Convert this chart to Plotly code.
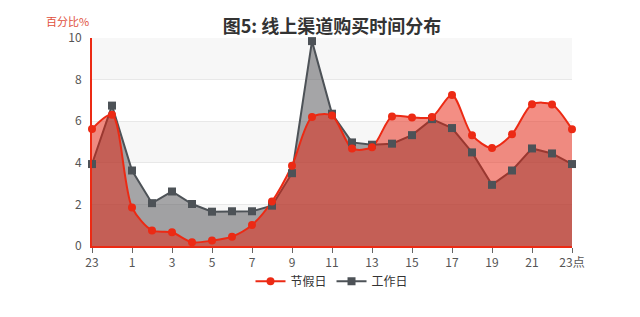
import plotly.graph_objects as go

hours = ['23', '0', '1', '2', '3', '4', '5', '6', '7', '8', '9', '10', '11', '12',
         '13', '14', '15', '16', '17', '18', '19', '20', '21', '22', '23点']
holiday = [5.62, 6.31, 1.85, 0.75, 0.66, 0.18, 0.26, 0.45, 1.01, 2.14, 3.86, 6.20, 6.27,
           4.69, 4.75, 6.23, 6.18, 6.20, 7.26, 5.33, 4.71, 5.37, 6.81, 6.80, 5.61]
workday = [3.94, 6.75, 3.63, 2.06, 2.62, 2.02, 1.65, 1.67, 1.67, 1.94, 3.50, 9.85, 6.36,
           4.98, 4.87, 4.92, 5.33, 6.10, 5.67, 4.50, 2.94, 3.63, 4.69, 4.45, 3.94]
y_ticks = [0, 2, 4, 6, 8, 10]

xs = list(range(len(hours)))
tick_idx = xs[::2]
tick_txt = [hours[i] for i in tick_idx]

RED = '#ec2a14'
GREY = '#4d5257'
FONT = 'Noto Sans CJK SC'

fig = go.Figure()
# area + line of working days (under the holiday area)
fig.add_trace(go.Scatter(
    x=xs, y=workday, name='工作日', mode='lines', showlegend=False,
    line=dict(color=GREY, width=2, shape='linear'),
    fill='tozeroy', fillcolor='rgba(75,75,80,0.5)', cliponaxis=False,
))
# area + line of holidays
fig.add_trace(go.Scatter(
    x=xs, y=holiday, name='节假日', mode='lines', showlegend=False,
    line=dict(color=RED, width=2, shape='spline', smoothing=0.8),
    fill='tozeroy', fillcolor='rgba(232,30,10,0.5)', cliponaxis=False,
))
# markers on top
fig.add_trace(go.Scatter(
    x=xs, y=workday, name='工作日', mode='markers', showlegend=False,
    marker=dict(symbol='square', size=8, color=GREY), cliponaxis=False,
))
fig.add_trace(go.Scatter(
    x=xs, y=holiday, name='节假日', mode='markers', showlegend=False,
    marker=dict(symbol='circle', size=8, color=RED), cliponaxis=False,
))
# legend entries (line + marker, no fill)
fig.add_trace(go.Scatter(
    x=[None], y=[None], name='节假日', mode='lines+markers',
    line=dict(color=RED, width=2), marker=dict(symbol='circle', size=8, color=RED),
))
fig.add_trace(go.Scatter(
    x=[None], y=[None], name='工作日', mode='lines+markers',
    line=dict(color=GREY, width=2), marker=dict(symbol='square', size=8, color=GREY),
))

for lo, hi in [(0, 2), (4, 6), (8, 10)]:
    fig.add_shape(type='rect', xref='paper', yref='y', x0=0, x1=1, y0=lo, y1=hi,
                  fillcolor='#f7f7f7', line=dict(width=0), layer='below')

fig.update_layout(
    width=640, height=317,
    margin=dict(l=92, r=68, t=38, b=71),
    paper_bgcolor='white', plot_bgcolor='white',
    font=dict(family=FONT, size=12, color='#555'),
    title=dict(text='<b>图5: 线上渠道购买时间分布</b>', x=0.5, xref='paper',
               y=1 - 27 / 317, yref='container', xanchor='center', yanchor='middle',
               font=dict(family=FONT, size=18, color='#333')),
    showlegend=True,
    legend=dict(orientation='h', x=0.5, xanchor='center', y=-0.17, yanchor='middle',
                font=dict(family=FONT, size=12, color='#333'),
                bgcolor='rgba(0,0,0,0)', itemwidth=30),
    xaxis=dict(range=[0, 24], tickvals=tick_idx, ticktext=tick_txt,
               showgrid=False, zeroline=False, showline=True, linecolor=RED, linewidth=2,
               ticks='outside', ticklen=5, tickcolor='#666', tickwidth=1,
               tickfont=dict(size=12, color='#555')),
    yaxis=dict(range=[0, 10], tickvals=y_ticks, showgrid=True, gridcolor='#e8e8e8',
               gridwidth=1, zeroline=False, showline=True, linecolor=RED, linewidth=2,
               ticks='', ticklabelstandoff=6, tickfont=dict(size=12, color='#555')),
    annotations=[dict(text='百分比%', xref='paper', yref='paper', x=(67 - 92) / 480,
                      y=(246 - 21) / 208, xanchor='center', yanchor='middle', showarrow=False,
                      font=dict(family=FONT, size=11, color='#e0503c'))],
)

fig.write_html('out.html')
